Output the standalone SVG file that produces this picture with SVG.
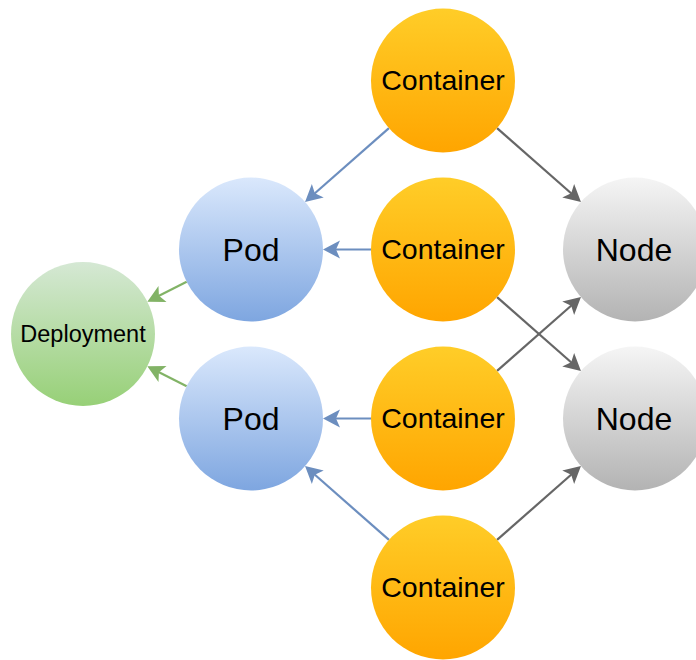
<svg xmlns="http://www.w3.org/2000/svg" width="696" height="660" viewBox="0 0 696 660">
  <style>
    .lbl { font-family: "Liberation Sans", Arial, sans-serif; fill: #000000; text-anchor: middle; }
    .c { font-size: 28.5px; }
    .big { font-size: 32px; }
    .dep { font-size: 23.5px; }
    .e { fill: none; stroke-width: 2.2; }
    .blue { stroke: #6C8EBF; marker-end: url(#ab); }
    .green { stroke: #82B366; marker-end: url(#ag); }
    .gray { stroke: #666666; marker-end: url(#ax); }
  </style>
  <defs>
    <linearGradient id="gC" x1="0" y1="0" x2="0" y2="1">
      <stop offset="0" stop-color="#FFCD28"/>
      <stop offset="1" stop-color="#FFA500"/>
    </linearGradient>
    <linearGradient id="gP" x1="0" y1="0" x2="0" y2="1">
      <stop offset="0" stop-color="#DAE8FC"/>
      <stop offset="1" stop-color="#7EA6E0"/>
    </linearGradient>
    <linearGradient id="gN" x1="0" y1="0" x2="0" y2="1">
      <stop offset="0" stop-color="#F5F5F5"/>
      <stop offset="1" stop-color="#B3B3B3"/>
    </linearGradient>
    <linearGradient id="gD" x1="0" y1="0" x2="0" y2="1">
      <stop offset="0" stop-color="#D5E8D4"/>
      <stop offset="1" stop-color="#97D077"/>
    </linearGradient>
    <marker id="ab" markerUnits="userSpaceOnUse" markerWidth="17" markerHeight="18" refX="5" refY="9" orient="auto" overflow="visible">
      <path d="M0,0 L17,9 L0,18 L4,9 Z" fill="#6C8EBF"/>
    </marker>
    <marker id="ag" markerUnits="userSpaceOnUse" markerWidth="17" markerHeight="18" refX="5" refY="9" orient="auto" overflow="visible">
      <path d="M0,0 L17,9 L0,18 L4,9 Z" fill="#82B366"/>
    </marker>
    <marker id="ax" markerUnits="userSpaceOnUse" markerWidth="17" markerHeight="18" refX="5" refY="9" orient="auto" overflow="visible">
      <path d="M0,0 L17,9 L0,18 L4,9 Z" fill="#666666"/>
    </marker>
  </defs>

  <g id="connectors">
    <path class="e blue" d="M388.96,128.07 L314.05,194.0"/>
    <path class="e blue" d="M371,249.5 L335,249.5"/>
    <path class="e blue" d="M371,418.5 L335,418.5"/>
    <path class="e blue" d="M388.96,539.93 L314.05,474.0"/>
    <path class="e green" d="M186.68,281.85 L158.04,296.26"/>
    <path class="e green" d="M186.68,386.15 L158.04,371.74"/>
    <path class="e gray" d="M497.04,128.07 L571.95,194.0"/>
    <path class="e gray" d="M497.04,297.07 L571.95,363.0"/>
    <path class="e gray" d="M497.04,370.93 L571.95,305.0"/>
    <path class="e gray" d="M497.04,539.93 L571.95,474.0"/>
  </g>

  <g id="container1">
    <circle cx="443" cy="80.5" r="72" fill="url(#gC)"/>
    <text class="lbl c" x="443" y="90">Container</text>
  </g>
  <g id="container2">
    <circle cx="443" cy="249.5" r="72" fill="url(#gC)"/>
    <text class="lbl c" x="443" y="259">Container</text>
  </g>
  <g id="container3">
    <circle cx="443" cy="418.5" r="72" fill="url(#gC)"/>
    <text class="lbl c" x="443" y="428">Container</text>
  </g>
  <g id="container4">
    <circle cx="443" cy="587.5" r="72" fill="url(#gC)"/>
    <text class="lbl c" x="443" y="597">Container</text>
  </g>
  <g id="pod1">
    <circle cx="251" cy="249.5" r="72" fill="url(#gP)"/>
    <text class="lbl big" x="251" y="261">Pod</text>
  </g>
  <g id="pod2">
    <circle cx="251" cy="418.5" r="72" fill="url(#gP)"/>
    <text class="lbl big" x="251" y="430">Pod</text>
  </g>
  <g id="node1">
    <circle cx="635" cy="249.5" r="72" fill="url(#gN)"/>
    <text class="lbl big" x="634" y="261">Node</text>
  </g>
  <g id="node2">
    <circle cx="635" cy="418.5" r="72" fill="url(#gN)"/>
    <text class="lbl big" x="634" y="430">Node</text>
  </g>
  <g id="deployment">
    <circle cx="83" cy="334" r="72" fill="url(#gD)"/>
    <text class="lbl dep" x="83" y="342">Deployment</text>
  </g>
</svg>
